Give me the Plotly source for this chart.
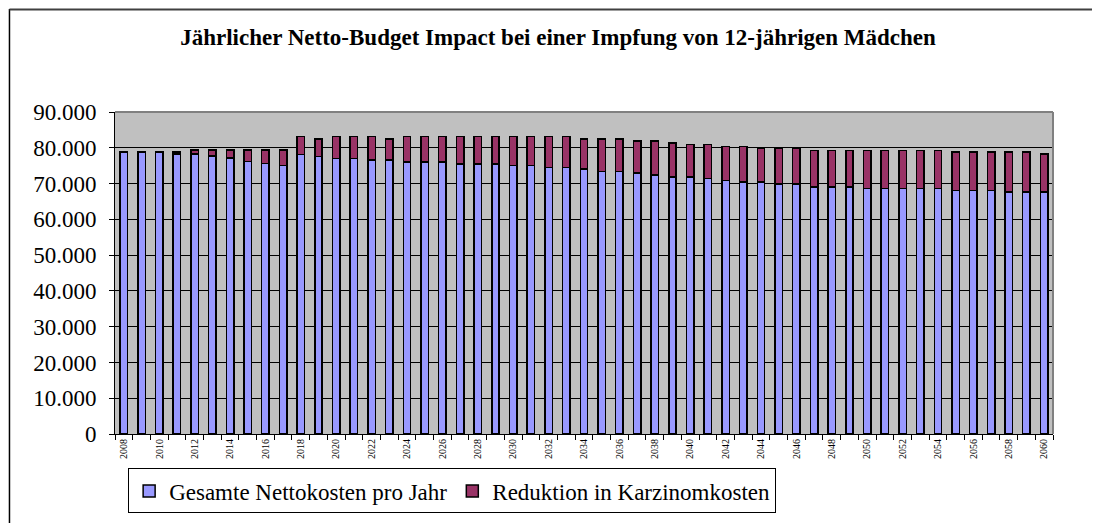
import plotly.graph_objects as go

years = [str(y) for y in range(2008, 2061)]

# Bar tops (stacked total)
totals = [
    78800, 78800, 78800, 78800, 79400, 79400, 79400, 79400, 79400, 79400,   # 2008-2017
    83100, 82500, 83100, 83100, 83100, 82500, 83100, 83100, 83100, 83100,   # 2018-2027
    83100, 83100, 83100, 83100, 83100, 83100, 82500, 82500, 82500, 81900,   # 2028-2037
    81900, 81400, 80900, 80900, 80400, 80400, 79900, 79900, 79900, 79300,   # 2038-2047
    79300, 79300, 79300, 79300, 79300, 79300, 79300, 78800, 78800, 78800,   # 2048-2057
    78800, 78800, 78300,                                                    # 2058-2060
]

nettokosten = [
    78800, 78800, 78800, 78200, 78300, 77700, 77100, 76100, 75600, 75100,   # 2008-2017
    78100, 77600, 77000, 77000, 76600, 76600, 76000, 76000, 76000, 75500,   # 2018-2027
    75500, 75500, 75100, 75100, 74500, 74500, 74000, 73400, 73400, 72900,   # 2028-2037
    72400, 71800, 71800, 71400, 70900, 70400, 70400, 69900, 69900, 69100,   # 2038-2047
    69100, 69100, 68600, 68600, 68600, 68600, 68600, 68100, 68100, 68100,   # 2048-2057
    67700, 67700, 67700,                                                    # 2058-2060
]

reduktion = [t - n for t, n in zip(totals, nettokosten)]

tick_labels = [y if int(y) % 2 == 0 else "" for y in years]

SERIF = "Liberation Serif, Times New Roman, serif"

fig = go.Figure()
fig.add_trace(go.Bar(
    x=years, y=nettokosten, name="Gesamte Nettokosten pro Jahr",
    marker=dict(color="#9999FF", line=dict(color="#000000", width=1.5)),
))
fig.add_trace(go.Bar(
    x=years, y=reduktion, name="Reduktion in Karzinomkosten",
    marker=dict(color="#993366", line=dict(color="#000000", width=1.5)),
))

fig.update_layout(
    width=1100, height=523,
    barmode="stack", bargap=0.58,
    separators=",.",
    paper_bgcolor="#FFFFFF",
    plot_bgcolor="#C0C0C0",
    margin=dict(l=107, r=55, t=104, b=97),
    title=dict(
        text="<b>Jährlicher Netto-Budget Impact bei einer Impfung von 12-jährigen Mädchen</b>",
        x=0.5, xanchor="center", y=0.944, yanchor="middle",
        font=dict(family=SERIF, size=23, color="#000000"),
    ),
    showlegend=True,
    legend=dict(
        orientation="h",
        x=0.014, xanchor="left", y=-0.107, yanchor="top",
        bgcolor="#FFFFFF", bordercolor="#000000", borderwidth=1,
        font=dict(family=SERIF, size=23, color="#000000"),
        traceorder="normal", itemwidth=30,
        tracegroupgap=0,
    ),
    xaxis=dict(
        type="category",
        tickmode="array", tickvals=years, ticktext=tick_labels,
        tickangle=-90,
        tickfont=dict(family=SERIF, size=10, color="#000000"),
        ticks="outside", ticklen=5, tickcolor="#000000", tickwidth=1,
        tickson="boundaries",
        showline=True, linecolor="#000000", linewidth=1,
        mirror=False, showgrid=False, zeroline=False,
    ),
    yaxis=dict(
        range=[0, 90000], dtick=10000, tick0=0,
        tickformat=",.0f",
        tickfont=dict(family=SERIF, size=23, color="#000000"),
        ticks="outside", ticklen=5, tickcolor="#000000",
        ticklabelstandoff=8,
        showline=True, linecolor="#000000", linewidth=1,
        showgrid=True, gridcolor="#000000", gridwidth=1,
        zeroline=False,
    ),
)

# plot-area border (gray, top and right)
fig.add_shape(type="line", xref="paper", yref="paper", x0=0, x1=1, y0=1, y1=1,
              line=dict(color="#808080", width=2))
fig.add_shape(type="line", xref="paper", yref="paper", x0=1, x1=1, y0=0, y1=1,
              line=dict(color="#808080", width=2))
# outer chart frame (left and top edges visible)
fig.add_shape(type="line", xref="paper", yref="paper", x0=-0.1125, x1=-0.1125, y0=-0.31, y1=1.32,
              line=dict(color="#000000", width=1.5))
fig.add_shape(type="line", xref="paper", yref="paper", x0=-0.1125, x1=1.06, y0=1.318, y1=1.318,
              line=dict(color="#404040", width=2))

fig.write_html("out.html")
